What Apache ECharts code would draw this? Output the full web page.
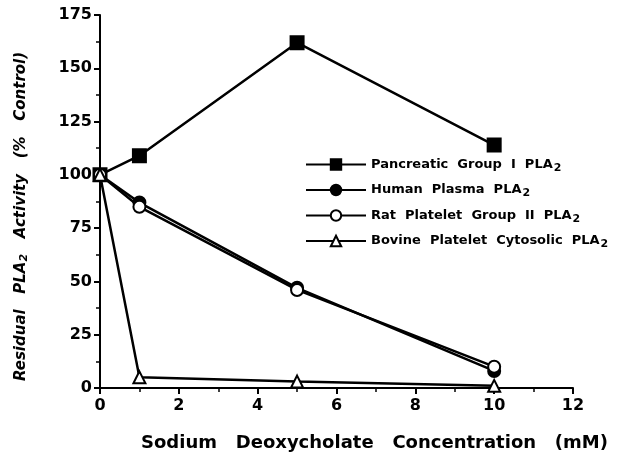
<!DOCTYPE html>
<html><head><meta charset="utf-8">
<script src="https://cdn.jsdelivr.net/npm/echarts@6/dist/echarts.min.js"></script>
<style>html,body{margin:0;padding:0;background:#fff}#c{width:644px;height:461px}</style>
</head><body><div id="c"></div>
<script>
const concentrations = [0, 1, 5, 10];
const pancreatic = [100, 109, 162, 114];
const humanPlasma = [100, 87, 47, 8];
const ratPlatelet = [100, 85, 46, 10];
const bovine = [100, 5, 3, 1];
const seriesNames = ['Pancreatic  Group  I  PLA', 'Human  Plasma  PLA', 'Rat  Platelet  Group  II  PLA', 'Bovine  Platelet  Cytosolic  PLA'];
const xTicks = [0, 2, 4, 6, 8, 10, 12];
const yTicks = [0, 25, 50, 75, 100, 125, 150, 175];

const FONT = 'DejaVu Sans, sans-serif';
function pts(vals){ return concentrations.map((x,i)=>[x, vals[i]]); }
const common = {type:'line', lineStyle:{color:'#000', width:2.5}, itemStyle:{color:'#000', borderColor:'#000', borderWidth:2}, z:3};
const chart = echarts.init(document.getElementById('c'), null, {renderer:'canvas'});
chart.setOption({
  animation:false,
  backgroundColor:'#fff',
  grid:{left:100, right:71, top:15, bottom:73, containLabel:false},
  legend:{
    orient:'vertical', left:300, top:153, itemWidth:60, itemHeight:13, itemGap:10,
    data: seriesNames,
    formatter: n => '{a|' + n + '}{s|2}',
    textStyle:{color:'#000', fontFamily:FONT, fontWeight:'bold', fontSize:13,
      rich:{a:{fontFamily:FONT, fontWeight:'bold', fontSize:13, color:'#000'},
            s:{fontFamily:FONT, fontWeight:'bold', fontSize:11, color:'#000', padding:[7,0,0,1]}}}
  },
  xAxis:{
    type:'value', min:0, max:12, interval:2,
    name:'Sodium   Deoxycholate   Concentration   (mM)',
    nameLocation:'middle', nameGap:46,
    nameTextStyle:{color:'#000', fontFamily:FONT, fontWeight:'bold', fontSize:18, padding:[0,0,0,76]},
    axisLine:{show:true, onZero:false, lineStyle:{color:'#000', width:2}},
    axisTick:{show:true, inside:false, length:6, lineStyle:{color:'#000', width:2}},
    minorTick:{show:true, splitNumber:2, length:4, lineStyle:{color:'#000', width:1.5}},
    splitLine:{show:false},
    axisLabel:{color:'#000', fontFamily:FONT, fontWeight:'bold', fontSize:16, margin:10}
  },
  yAxis:{
    type:'value', min:0, max:175, interval:25,
    name:'{a|Residual   PLA}{s|2}{a|   Activity   (%   Control)}',
    nameLocation:'middle', nameGap:70, nameRotate:90,
    nameTextStyle:{color:'#000', fontFamily:FONT, fontWeight:'bold', fontStyle:'italic', fontSize:15, padding:[0,30,0,0],
      rich:{a:{fontFamily:FONT, fontWeight:'bold', fontStyle:'italic', fontSize:15, color:'#000'},
            s:{fontFamily:FONT, fontWeight:'bold', fontStyle:'italic', fontSize:11, color:'#000', padding:[7,0,0,0]}}},
    axisLine:{show:true, onZero:false, lineStyle:{color:'#000', width:2}},
    axisTick:{show:true, inside:false, length:6, lineStyle:{color:'#000', width:2}},
    minorTick:{show:true, splitNumber:2, length:4, lineStyle:{color:'#000', width:1.5}},
    splitLine:{show:false},
    axisLabel:{color:'#000', fontFamily:FONT, fontWeight:'bold', fontSize:16, margin:8}
  },
  series:[
    Object.assign({}, common, {name:seriesNames[0], data:pts(pancreatic), symbol:'rect', symbolSize:13}),
    Object.assign({}, common, {name:seriesNames[1], data:pts(humanPlasma), symbol:'circle', symbolSize:12}),
    Object.assign({}, common, {name:seriesNames[2], data:pts(ratPlatelet), symbol:'emptyCircle', symbolSize:12}),
    Object.assign({}, common, {name:seriesNames[3], data:pts(bovine), symbol:'emptyTriangle', symbolSize:12})
  ]
});
</script></body></html>
